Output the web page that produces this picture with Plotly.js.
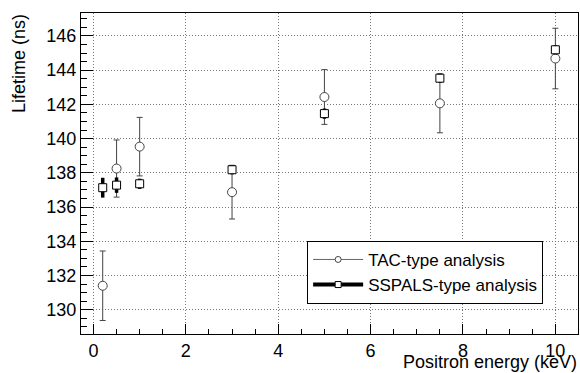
<!DOCTYPE html>
<html>
<head>
<meta charset="utf-8">
<script src="https://cdn.plot.ly/plotly-3.0.1.min.js"></script>
<style>html,body{margin:0;padding:0;background:#fff;}#chart{width:580px;height:373px;}</style>
</head>
<body>
<div id="chart"></div>
<script>
const energy = [0.2, 0.5, 1.0, 3.0, 5.0, 7.5, 10.0];
const tacLifetime = [131.4, 138.25, 139.53, 136.87, 142.43, 142.06, 144.68];
const tacError = [2.03, 1.67, 1.71, 1.57, 1.6, 1.72, 1.77];
const sspalsLifetime = [137.13, 137.28, 137.36, 138.18, 141.46, 143.53, 145.19];
const sspalsError = [0.58, 0.45, 0.3, 0.27, 0.3, 0.27, 0.27];
const seriesNames = ['TAC-type analysis', 'SSPALS-type analysis'];
const xTicks = [0, 2, 4, 6, 8, 10];
const yTicks = [130, 132, 134, 136, 138, 140, 142, 144, 146];

const FONT = '"Liberation Sans", Arial, sans-serif';

const traces = [
  {
    x: energy, y: tacLifetime, mode: 'markers', type: 'scatter', showlegend: false,
    marker: {symbol: 'circle', size: 9, color: '#ffffff', line: {color: '#444', width: 1}},
    error_y: {type: 'data', array: tacError, visible: true, color: '#444', thickness: 1, width: 3}
  },
  {
    x: energy, y: sspalsLifetime, mode: 'markers', type: 'scatter', showlegend: false,
    marker: {symbol: 'square', size: 8, color: '#ffffff', line: {color: '#000', width: 1}},
    error_y: {type: 'data', array: sspalsError, visible: true, color: '#000', thickness: 3.5, width: 0}
  },
  {
    x: [null], y: [null], mode: 'lines+markers', type: 'scatter', name: seriesNames[0],
    line: {color: '#666', width: 1},
    marker: {symbol: 'circle', size: 6, color: '#fff', line: {color: '#444', width: 1}}
  },
  {
    x: [null], y: [null], mode: 'lines+markers', type: 'scatter', name: seriesNames[1],
    line: {color: '#000', width: 4},
    marker: {symbol: 'square', size: 6, color: '#fff', line: {color: '#000', width: 1}}
  }
];

const axisCommon = {
  showline: true, linecolor: '#000', linewidth: 1, mirror: true,
  ticks: 'inside', tickcolor: '#000', tickwidth: 1,
  showgrid: true, gridcolor: '#777', griddash: '1px,2px', gridwidth: 1,
  zeroline: false,
  tickfont: {family: FONT, size: 18, color: '#000'}
};

const layout = {
  width: 580, height: 373,
  margin: {l: 81, r: 2, t: 13, b: 39},
  paper_bgcolor: '#fff', plot_bgcolor: '#fff',
  font: {family: FONT, size: 18, color: '#000'},
  xaxis: Object.assign({}, axisCommon, {
    range: [-0.27, 10.49], tickvals: xTicks, ticktext: xTicks.map(String), ticklen: 10,
    minor: {dtick: 0.5, tick0: 0, ticks: 'inside', ticklen: 5, tickcolor: '#000', showgrid: false},
    ticklabelstandoff: 0
  }),
  yaxis: Object.assign({}, axisCommon, {
    range: [128.58, 147.34], tickvals: yTicks, ticktext: yTicks.map(String), ticklen: 12,
    minor: {dtick: 0.5, tick0: 0, ticks: 'inside', ticklen: 6, tickcolor: '#000', showgrid: false},
    ticklabelstandoff: 0
  }),
  legend: {
    x: 0.455, y: 0.29, xanchor: 'left', yanchor: 'top',
    bgcolor: '#fff', bordercolor: '#000', borderwidth: 1,
    font: {family: FONT, size: 17, color: '#000'},
    itemwidth: 50, tracegroupgap: 0
  },
  annotations: [
    {text: 'Lifetime (ns)', xref: 'paper', yref: 'paper', x: -0.126, y: 1.003,
     xanchor: 'center', yanchor: 'top', textangle: -90, showarrow: false,
     font: {family: FONT, size: 18, color: '#000'}},
    {text: 'Positron energy (keV)', xref: 'paper', yref: 'paper', x: 1.0, y: -0.1215,
     xanchor: 'right', yanchor: 'bottom', showarrow: false, borderpad: 0,
     font: {family: FONT, size: 18, color: '#000'}}
  ]
};

Plotly.newPlot('chart', traces, layout, {displayModeBar: false, staticPlot: true});
</script>
</body>
</html>
